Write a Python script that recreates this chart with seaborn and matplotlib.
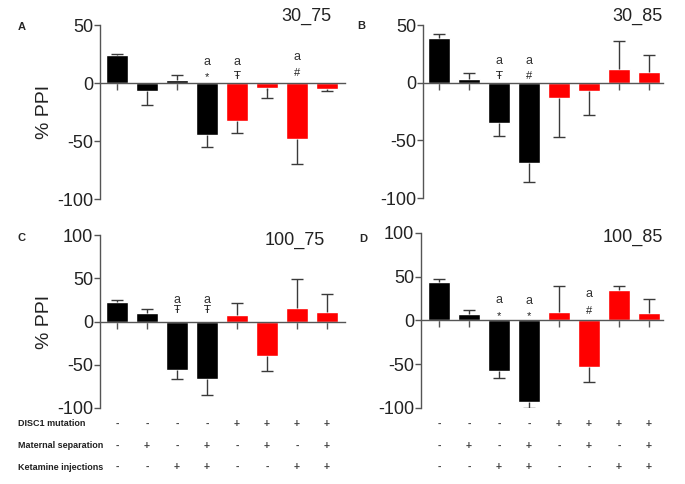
import matplotlib
matplotlib.use("Agg")
import matplotlib.pyplot as plt
import matplotlib.transforms as mtransforms
import numpy as np
import seaborn as sns

# 8 groups: DISC1 mutation x maternal separation x ketamine
groups = ["g1", "g2", "g3", "g4", "g5", "g6", "g7", "g8"]
bar_colors = ["#000000"] * 4 + ["#ff0000"] * 4

disc1 = ["-", "-", "-", "-", "+", "+", "+", "+"]
maternal = ["-", "+", "-", "+", "-", "+", "-", "+"]
ketamine = ["-", "-", "+", "+", "-", "-", "+", "+"]
row_names = ["DISC1 mutation", "Maternal separation", "Ketamine injections"]

# % PPI, mean and (one-sided) SEM per panel
a_mean = [24, -7, 3, -45, -33, -4, -48, -5]
a_err = [1, 12, 3.5, 10, 10, 9, 22, 2]
b_mean = [39, 3, -35, -70, -13, -7, 12, 9]
b_err = [3, 5, 11, 16, 34, 21, 24, 15]
c_mean = [23, 9.5, -56, -67, 7.5, -40, 16, 11]
c_err = [2, 5, 10, 18, 14, 17, 33, 21]
d_mean = [44, 7, -58, -93, 9.5, -53, 35, 8.5]
d_err = [3.5, 4.5, 8, 7, 29.5, 17, 4.5, 15.5]

# annotations: (bar index, "a" y, symbol, symbol y)
a_marks = [(3, 18, "*", 5), (4, 18, "Ŧ", 6), (6, 22, "#", 9)]
b_marks = [(2, 19, "Ŧ", 6), (3, 19, "#", 6)]
c_marks = [(2, 25, "Ŧ", 13), (3, 25, "Ŧ", 13)]
d_marks = [(2, 23, "*", 5.5), (3, 22, "*", 4.5), (5, 30, "#", 10.5)]

sns.set_style("ticks")
plt.rcParams['font.family'] = ['Liberation Sans', 'DejaVu Sans']

fig = plt.figure(figsize=(6.85, 4.84), dpi=100)
W, H = 685.0, 484.0

axis_grey = "#555555"
err_col = "#3a3a3a"


def draw_panel(rect, means, errs, marks, yticks, title, title_xy, letter, letter_xy, xlim, ylabel):
    left, top, right, bottom = rect
    ax = fig.add_axes([left / W, 1 - bottom / H, (right - left) / W, (bottom - top) / H])
    sns.barplot(x=groups, y=means, hue=groups, palette=dict(zip(groups, bar_colors)),
                legend=False, dodge=False, width=0.74, saturation=1, errorbar=None, ax=ax)
    # one-sided error bars, pointing away from zero, cap only at the tip
    xs = np.arange(len(means))
    tips = [m + e if m >= 0 else m - e for m, e in zip(means, errs)]
    ax.vlines(xs, means, tips, color=err_col, lw=1, zorder=3)
    ax.hlines(tips, xs - 0.2, xs + 0.2, color=err_col, lw=1, zorder=3)
    ax.set_ylim(yticks[0], yticks[-1])
    ax.set_xlim(*xlim)
    ax.set_yticks(yticks)
    ax.set_yticklabels([str(t) for t in yticks], fontsize=13, color="#222222")
    ax.spines['top'].set_visible(False)
    ax.spines['right'].set_visible(False)
    ax.spines['bottom'].set_position(('data', 0))
    for s in ['left', 'bottom']:
        ax.spines[s].set_color(axis_grey)
        ax.spines[s].set_linewidth(1)
        ax.spines[s].set_zorder(4)
    ax.tick_params(axis='x', length=5, width=1, color=axis_grey, labelbottom=False)
    ax.tick_params(axis='y', length=4, width=1, color=axis_grey, pad=1)
    ax.set_xlabel("")
    if ylabel:
        ax.set_ylabel("% PPI", fontsize=14, color="#222222")
        ax.yaxis.set_label_coords(-0.19, 0.5)
    else:
        ax.set_ylabel("")
    for idx, ya, sym, ys in marks:
        ax.text(idx, ya, "a", ha='center', va='center', fontsize=9, color="#333333")
        ax.text(idx, ys, sym, ha='center', va='center', fontsize=8, color="#222222",
                family=['DejaVu Sans'] if sym == "Ŧ" else None)
    fig.text(title_xy[0] / W, 1 - title_xy[1] / H, title, ha='right', va='center',
             fontsize=13, color="#222222")
    fig.text(letter_xy[0] / W, 1 - letter_xy[1] / H, letter, ha='center', va='center',
             fontsize=8, fontweight='bold')
    return ax


ax_a = draw_panel((100, 25, 345, 199), a_mean, a_err, a_marks, [-100, -50, 0, 50],
                  "30_75", (331, 16), "A", (22, 27), (-0.57, 7.6), True)
ax_b = draw_panel((423, 25, 663, 198), b_mean, b_err, b_marks, [-100, -50, 0, 50],
                  "30_85", (663, 16), "B", (361, 26), (-0.53, 7.47), False)
ax_c = draw_panel((100, 235, 345, 408), c_mean, c_err, c_marks, [-100, -50, 0, 50, 100],
                  "100_75", (325, 240), "C", (22, 238), (-0.57, 7.6), True)
ax_d = draw_panel((421, 233, 663, 408), d_mean, d_err, d_marks, [-100, -50, 0, 50, 100],
                  "100_85", (663, 237), "D", (363, 239), (-0.6, 7.47), False)

# treatment table under the lower panels
row_y = [424, 446, 467]
for name, y in zip(row_names, row_y):
    fig.text(18 / W, 1 - y / H, name, ha='left', va='center', fontsize=6.5,
             fontweight='bold', color="#222222")
for ax in (ax_c, ax_d):
    trans = mtransforms.blended_transform_factory(ax.transData, fig.transFigure)
    for signs, y in zip([disc1, maternal, ketamine], row_y):
        for i, s in enumerate(signs):
            ax.text(i, 1 - y / H, s, transform=trans, ha='center', va='center',
                    fontsize=7.5, fontweight='bold', color="#444444")

fig.savefig("out.png", dpi=100)
